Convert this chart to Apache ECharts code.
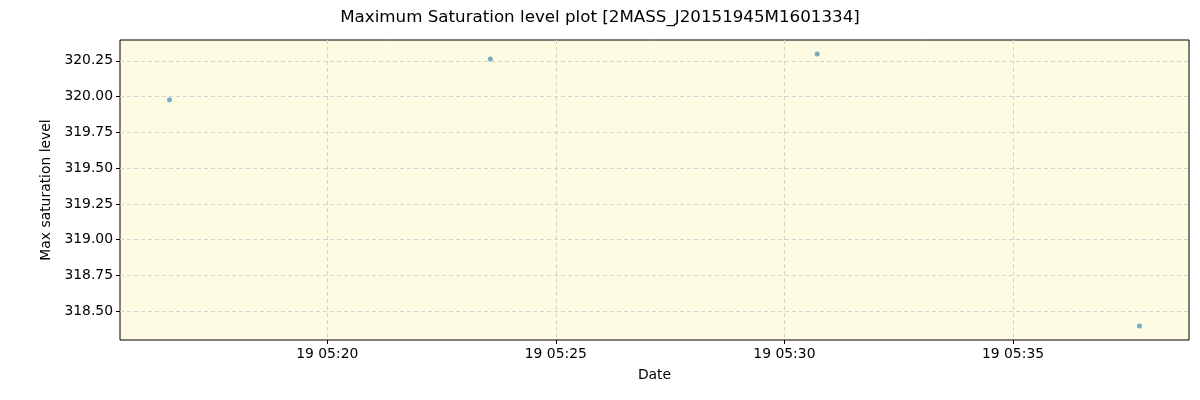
<!DOCTYPE html>
<html lang="en">
<head>
    <meta charset="UTF-8">
    <title>Maximum Saturation level plot</title>
</head>
<body style="margin:0;background:#fff;">
<div id="main" style="width: 1200px;height:400px;"></div>
<script src="https://cdn.jsdelivr.net/npm/echarts@6/dist/echarts.min.js"></script>
<script type="text/javascript">
    // observation times (local) and max saturation level
    var obsTimes = ["2020-08-19T05:16:33", "2020-08-19T05:23:34", "2020-08-19T05:30:43", "2020-08-19T05:37:46"];
    var satLevels = [319.979, 320.264, 320.299, 318.396];

    // axis range and tick marks
    var xRange = ["2020-08-19T05:15:28", "2020-08-19T05:38:51"];
    var xTicks = ["2020-08-19T05:20:00", "2020-08-19T05:25:00", "2020-08-19T05:30:00", "2020-08-19T05:35:00"];
    var yRange = [318.299, 320.396];
    var yTicks = [318.50, 318.75, 319.00, 319.25, 319.50, 319.75, 320.00, 320.25];

    function ms(s) { return new Date(s).getTime(); }
    function pad(n) { return (n < 10 ? "0" : "") + n; }

    var points = obsTimes.map(function (t, i) {
        return [ms(t), satLevels[i]];
    });

    var myChart = echarts.init(document.getElementById("main"));

    var option = {
        animation: false,
        textStyle: { fontFamily: "DejaVu Sans" },
        title: {
            text: "Maximum Saturation level plot [2MASS_J20151945M1601334]",
            left: "center",
            top: 4,
            textStyle: { fontSize: 16.7, fontWeight: "normal", color: "#000", fontFamily: "DejaVu Sans" }
        },
        grid: {
            left: 120, right: 11, top: 40, bottom: 60,
            show: true,
            backgroundColor: "#fdfbe2",
            borderColor: "#000",
            borderWidth: 1
        },
        xAxis: {
            type: "value",
            min: ms(xRange[0]),
            max: ms(xRange[1]),
            name: "Date",
            nameLocation: "middle",
            nameGap: 28,
            nameTextStyle: { fontSize: 13.9, color: "#000" },
            axisLine: { show: false },
            axisTick: {
                show: true, length: 4, inside: false,
                customValues: xTicks.map(ms),
                lineStyle: { color: "#000" }
            },
            axisLabel: {
                fontSize: 13.9, color: "#000", margin: 7,
                customValues: xTicks.map(ms),
                formatter: function (v) {
                    var d = new Date(v);
                    return pad(d.getDate()) + " " + pad(d.getHours()) + ":" + pad(d.getMinutes());
                }
            },
            splitLine: {
                show: true,
                lineStyle: { color: "#d3d3d3", type: [4, 3], width: 1 }
            }
        },
        yAxis: {
            type: "value",
            min: yRange[0],
            max: yRange[1],
            name: "Max saturation level",
            nameLocation: "middle",
            nameGap: 64,
            nameTextStyle: { fontSize: 13.9, color: "#000" },
            axisLine: { show: false },
            axisTick: {
                show: true, length: 4,
                customValues: yTicks,
                lineStyle: { color: "#000" }
            },
            axisLabel: {
                fontSize: 13.9, color: "#000", margin: 7,
                customValues: yTicks,
                formatter: function (v) { return v.toFixed(2); }
            },
            splitLine: {
                show: true,
                lineStyle: { color: "#d3d3d3", type: [4, 3], width: 1 }
            }
        },
        series: [
            {
                type: "scatter",
                data: points,
                symbolSize: 5,
                itemStyle: { color: "#1f77b4", opacity: 0.6 }
            }
        ]
    };

    myChart.setOption(option);
</script>
</body>
</html>
